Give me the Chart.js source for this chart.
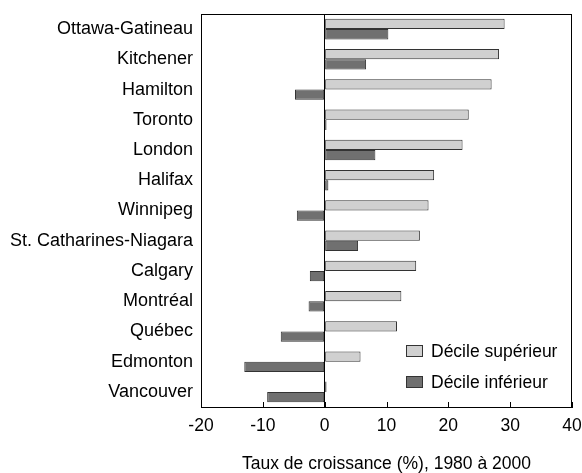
<!DOCTYPE html>
<html>
<head>
<meta charset="utf-8">
<script src="https://cdn.jsdelivr.net/npm/chart.js@4/dist/chart.umd.min.js"></script>
<style>
  html, body { margin: 0; padding: 0; background: #fff; }
</style>
</head>
<body>
<canvas id="growthChart" width="582" height="473"></canvas>
<script>
const cities = [
  "Ottawa-Gatineau", "Kitchener", "Hamilton", "Toronto", "London", "Halifax",
  "Winnipeg", "St. Catharines-Niagara", "Calgary", "Montréal", "Québec",
  "Edmonton", "Vancouver"
];
const decileSuperieur = [29.1, 28.2, 27.0, 23.3, 22.3, 17.7, 16.8, 15.4, 14.8, 12.4, 11.7, 5.8, 0.3];
const decileInferieur = [10.3, 6.7, -4.8, 0.3, 8.2, 0.6, -4.5, 5.4, -2.4, -2.6, -7.1, -13.0, -9.3];
const xTickValues = [-20, -10, 0, 10, 20, 30, 40];

const FONT = "'Liberation Sans', Arial, sans-serif";

// frame on top/right, little tick marks pointing into the plot
const framePlugin = {
  id: "frame",
  afterDatasetsDraw(chart) {
    const { ctx, chartArea: a, scales } = chart;
    ctx.save();
    ctx.strokeStyle = "#000";
    ctx.lineWidth = 1;
    ctx.strokeRect(a.left + 0.5, a.top + 0.5, a.right - a.left - 1, a.bottom - a.top);
    ctx.beginPath();
    xTickValues.forEach(v => {
      const x = Math.round(scales.x.getPixelForValue(v)) + 0.5;
      ctx.moveTo(x, a.bottom);
      ctx.lineTo(x, a.bottom - 5);
    });
    ctx.stroke();
    ctx.restore();
  }
};

// legend sitting inside the plot, bottom right
const legendPlugin = {
  id: "innerLegend",
  afterDraw(chart) {
    const { ctx, chartArea: a } = chart;
    ctx.save();
    ctx.font = "17.5px " + FONT;
    ctx.textBaseline = "middle";
    chart.data.datasets.forEach((ds, i) => {
      const bx = a.right - 166;
      const by = a.bottom - 62 + i * 31;
      ctx.fillStyle = ds.backgroundColor;
      ctx.fillRect(bx, by, 17, 12);
      ctx.strokeStyle = "#333";
      ctx.strokeRect(bx + 0.5, by + 0.5, 16, 11);
      ctx.fillStyle = "#000";
      ctx.fillText(ds.label, bx + 25, by + 7);
    });
    ctx.restore();
  }
};

new Chart(document.getElementById("growthChart"), {
  type: "bar",
  data: {
    labels: cities,
    datasets: [
      {
        label: "Décile supérieur",
        data: decileSuperieur,
        backgroundColor: "#d0d0d0",
        borderColor: "#333",
        borderWidth: 1,
        borderSkipped: false,
        categoryPercentage: 0.68,
        barPercentage: 1.0,
      },
      {
        label: "Décile inférieur",
        data: decileInferieur,
        backgroundColor: "#707070",
        borderColor: "#333",
        borderWidth: 1,
        borderSkipped: false,
        categoryPercentage: 0.68,
        barPercentage: 1.0,
      },
    ],
  },
  options: {
    indexAxis: "y",
    responsive: false,
    animation: false,
    layout: { padding: { top: 14, right: 10, left: 0, bottom: 0 } },
    plugins: { legend: { display: false }, tooltip: { enabled: false } },
    scales: {
      x: {
        min: -20,
        max: 40,
        afterBuildTicks: s => { s.ticks = xTickValues.map(v => ({ value: v })); },
        afterFit: s => {
          s.height = 66;
          s.paddingLeft = 0;
          s.paddingRight = 0;
        },
        ticks: { color: "#000", font: { family: FONT, size: 17.5 }, padding: 9 },
        grid: {
          drawTicks: false,
          color: c => (c.tick && c.tick.value === 0 ? "#000" : "rgba(0,0,0,0)"),
        },
        border: { display: true, color: "#000" },
        title: {
          display: true,
          text: "Taux de croissance (%), 1980 à 2000",
          color: "#000",
          font: { family: FONT, size: 17.5, lineHeight: 1 },
          padding: { top: 0, bottom: 0 },
        },
      },
      y: {
        afterFit: s => {
          s.width = 201;
          s.paddingTop = 0;
          s.paddingBottom = 0;
        },
        ticks: { color: "#000", font: { family: FONT, size: 18 }, padding: 8 },
        grid: { display: false, drawTicks: false },
        border: { display: true, color: "#000" },
      },
    },
  },
  plugins: [framePlugin, legendPlugin],
});
</script>
</body>
</html>
